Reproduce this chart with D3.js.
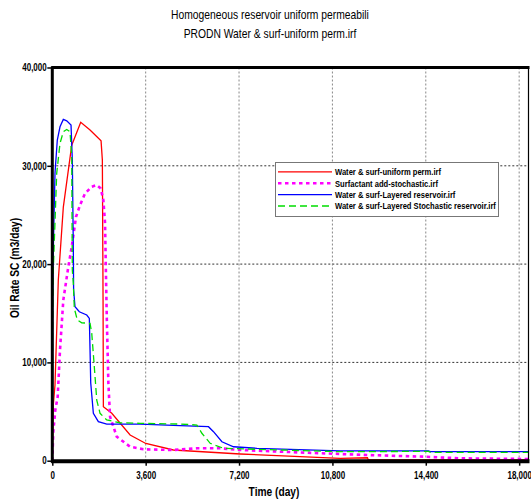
<!DOCTYPE html>
<html>
<head>
<meta charset="utf-8">
<script src="https://cdn.jsdelivr.net/npm/d3@7"></script>
<style>
  body { margin: 0; background: #fff; }
  svg text { font-family: "Liberation Sans", Arial, sans-serif; }
  .axis path { display: none; }
  .axis text { font-size: 10px; font-weight: bold; fill: #000; }
  .axis line { stroke: #000; stroke-width: 1.5; }
</style>
</head>
<body>
<svg width="531" height="502"></svg>
<script>
// chart values: [day, m3/day]
var titles = ["Homogeneous reservoir uniform permeabili", "PRODN Water & surf-uniform perm.irf"];
var seriesNames = ["Water & surf-uniform perm.irf", "Surfactant add-stochastic.irf",
                   "Water & surf-Layered reservoir.irf", "Water & surf-Layered Stochastic reservoir.irf"];
var xTicks = [0, 3600, 7200, 10800, 14400, 18000];
var yTicks = [0, 10000, 20000, 30000, 40000];

var uniformPerm = [[0,0],[39,5665],[104,7700],[232,18380],[425,25800],[749,32100],[1096,34420],
  [1455,33650],[1880,32540],[1930,30580],[1957,16350],[1969,5490],[2293,4820],[3000,2610],
  [3605,1750],[4670,1090],[7245,680],[11105,244],[12150,300],[12186,70],[18360,70]];
var surfStochastic = [[0,0],[39,2950],[116,5160],[208,6510],[297,11260],[425,16340],[618,19730],
  [749,21760],[915,24810],[1069,26000],[1262,27190],[1521,27870],[1714,28040],[1868,27700],
  [1969,26510],[2034,24140],[2061,20070],[2100,14640],[2162,7870],[2227,4470],[2486,2440],
  [3000,1420],[3513,1160],[4670,1090],[5574,1260],[6473,1260],[7245,1090],[9820,810],
  [12136,580],[14309,410],[15737,240],[18360,170]];
var layered = [[0,0],[15,16340],[39,21430],[104,29260],[193,32620],[297,33970],[425,34720],
  [556,34580],[722,34140],[772,30580],[811,21430],[822,17360],[876,15660],[1042,15150],
  [1328,14820],[1428,14480],[1455,11260],[1482,7900],[1583,4820],[1776,3970],[2100,3730],
  [3385,3730],[4929,3560],[6022,3460],[6215,2950],[6539,1930],[6987,1420],[7890,1260],
  [11105,990],[14502,990],[14580,915],[18360,915]];
var layeredStochastic = [[0,0],[12,13300],[39,19380],[170,29230],[297,32280],[425,33460],
  [556,33700],[683,33460],[749,30920],[772,19390],[811,18040],[849,15500],[965,14310],
  [1135,14030],[1455,13970],[1521,12960],[1610,9900],[1714,6170],[1841,4820],[2100,4140],
  [2613,3860],[3385,3800],[4929,3730],[5574,3630],[5767,2790],[6087,1770],[6601,1260],
  [11105,915],[14502,950],[14580,850],[18360,850]];

var svg = d3.select("svg"),
    plotLeft = 52.3, plotRight = 528.5, plotTop = 67.5, plotBottom = 460.7;

var x = d3.scaleLinear().domain([0, 18360]).range([plotLeft, plotRight]);
var y = d3.scaleLinear().domain([0, 40000]).range([plotBottom, plotTop]);

// titles
svg.selectAll(".title").data(titles).enter().append("text")
    .attr("transform", function(d, i) { return "translate(270," + (19 + i * 19) + ") scale(0.86,1)"; })
    .attr("text-anchor", "middle").style("font-size", "12px")
    .text(function(d) { return d; });

// grid
svg.append("g").selectAll("line").data(yTicks.slice(1, 4)).enter().append("line")
    .attr("x1", plotLeft).attr("x2", plotRight)
    .attr("y1", function(d) { return y(d); }).attr("y2", function(d) { return y(d); })
    .attr("stroke", "#333").attr("stroke-width", 1).attr("stroke-dasharray", "2,2");
svg.append("g").selectAll("line").data(xTicks.slice(1)).enter().append("line")
    .attr("y1", plotTop).attr("y2", plotBottom)
    .attr("x1", function(d) { return x(d); }).attr("x2", function(d) { return x(d); })
    .attr("stroke", "#888").attr("stroke-width", 1).attr("stroke-dasharray", "2,2");

// axes
svg.append("g").attr("class", "axis")
    .attr("transform", "translate(" + plotLeft + ",0)")
    .call(d3.axisLeft(y).tickValues(yTicks).tickSize(5).tickPadding(2).tickFormat(d3.format(",")))
  .selectAll("text").attr("transform", "scale(0.8,1)");
svg.append("g").attr("class", "axis")
    .attr("transform", "translate(0," + plotBottom + ")")
    .call(d3.axisBottom(x).tickValues(xTicks).tickSize(5).tickPadding(6).tickFormat(d3.format(",")))
  .selectAll("text").attr("transform", "scale(0.8,1)");

// lines
svg.append("clipPath").attr("id", "plot").append("rect")
    .attr("x", plotLeft).attr("y", plotTop).attr("width", plotRight - plotLeft).attr("height", plotBottom - plotTop);

var valueline = d3.line()
    .x(function(d) { return x(d[0]); })
    .y(function(d) { return y(d[1]); });

var styles = [
  {data: uniformPerm, color: "#ff0000", width: 1.3, dash: null},
  {data: surfStochastic, color: "#ff00ff", width: 2.6, dash: "3.5,3.5"},
  {data: layered, color: "#0000ff", width: 1.3, dash: null},
  {data: layeredStochastic, color: "#00dd00", width: 1.3, dash: "7,4"}
];

var lines = svg.append("g").attr("clip-path", "url(#plot)");
styles.forEach(function(s) {
  lines.append("path")
      .datum(s.data)
      .attr("class", "line")
      .attr("d", valueline)
      .style("fill", "none")
      .attr("stroke", s.color)
      .attr("stroke-width", s.width)
      .attr("stroke-dasharray", s.dash);
});

// frame
svg.append("line").attr("x1", plotLeft - 1).attr("x2", plotRight + 1).attr("y1", plotTop).attr("y2", plotTop)
    .attr("stroke", "#000").attr("stroke-width", 3);
svg.append("line").attr("x1", plotRight).attr("x2", plotRight).attr("y1", plotTop).attr("y2", plotBottom)
    .attr("stroke", "#000").attr("stroke-width", 1.2);
svg.append("line").attr("x1", plotLeft).attr("x2", plotLeft).attr("y1", plotTop - 1).attr("y2", plotBottom + 2)
    .attr("stroke", "#000").attr("stroke-width", 3);
svg.append("line").attr("x1", plotLeft - 1).attr("x2", plotRight + 1).attr("y1", plotBottom + 0.5).attr("y2", plotBottom + 0.5)
    .attr("stroke", "#000").attr("stroke-width", 4);

// legend
var legend = svg.append("g");
legend.append("rect").attr("x", 275.5).attr("y", 162.5).attr("width", 223).attr("height", 54)
    .attr("fill", "#fff").attr("stroke", "#777").attr("stroke-width", 1);
var items = legend.selectAll(".item").data(styles).enter().append("g")
    .attr("transform", function(d, i) { return "translate(0," + (171.8 + i * 11.4) + ")"; });
items.append("line").attr("x1", 278).attr("x2", 332).attr("y1", 0).attr("y2", 0)
    .attr("stroke", function(d) { return d.color; })
    .attr("stroke-width", function(d) { return d.width; })
    .attr("stroke-dasharray", function(d) { return d.dash; });
items.append("text").attr("transform", "translate(335,3.3) scale(0.8,1)")
    .style("font-size", "9.5px").style("font-weight", "bold")
    .text(function(d, i) { return seriesNames[i]; });

// axis titles
svg.append("text").attr("transform", "translate(274,496) scale(0.85,1)").attr("text-anchor", "middle")
    .style("font-size", "12px").style("font-weight", "bold").text("Time (day)");
svg.append("text").attr("transform", "translate(19,268) rotate(-90) scale(0.85,1)").attr("text-anchor", "middle")
    .style("font-size", "12px").style("font-weight", "bold").text("Oil Rate SC (m3/day)");
</script>
</body>
</html>
